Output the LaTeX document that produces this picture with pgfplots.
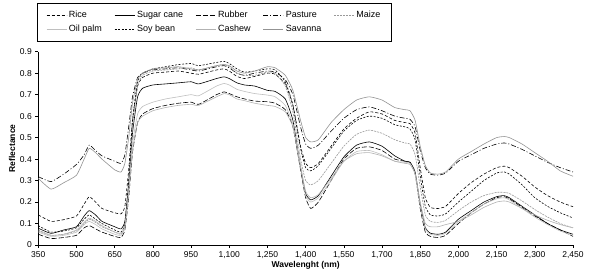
\documentclass[border=0pt]{standalone}
\usepackage{fontspec}
\setmainfont{Liberation Sans}
\usepackage{pgfplots}
\usepackage{pgfplotstable}
\pgfplotsset{compat=1.18}
\pgfplotstableread{
w     ri    su    rb    pa    mz    op    sb    ca    sv
350  .140 .078 .050 .318 .070 .060 .090 .065 .310
400  .110 .054 .030 .295 .045 .040 .060 .045 .260
450  .118 .070 .035 .330 .050 .045 .065 .050 .290
500  .135 .085 .045 .375 .065 .060 .080 .070 .325
530  .190 .135 .080 .420 .100 .095 .120 .105 .400
550  .225 .160 .090 .465 .120 .110 .140 .125 .450
575  .200 .140 .075 .440 .105 .095 .120 .110 .430
600  .170 .110 .060 .415 .085 .075 .100 .090 .400
650  .150 .085 .040 .390 .060 .050 .070 .060 .350
675  .145 .075 .035 .380 .050 .045 .060 .055 .340
690  .180 .110 .070 .420 .090 .080 .100 .090 .380
705  .350 .280 .220 .550 .280 .240 .300 .250 .500
720  .580 .520 .430 .690 .550 .470 .580 .440 .660
740  .740 .690 .570 .780 .740 .610 .760 .570 .770
760  .780 .730 .610 .800 .790 .645 .800 .600 .800
800  .800 .745 .635 .815 .810 .665 .820 .625 .820
850  .805 .750 .650 .820 .815 .680 .830 .640 .825
900  .810 .755 .660 .825 .820 .690 .840 .650 .830
950  .800 .760 .665 .815 .825 .700 .845 .655 .820
980  .795 .750 .655 .810 .815 .695 .835 .650 .815
1050 .815 .775 .700 .830 .835 .740 .850 .690 .835
1080 .820 .783 .713 .835 .840 .752 .855 .705 .840
1100 .810 .775 .705 .825 .830 .745 .845 .700 .835
1130 .785 .755 .690 .800 .800 .725 .820 .680 .810
1160 .775 .745 .680 .790 .790 .715 .805 .672 .800
1200 .785 .740 .670 .800 .790 .705 .810 .660 .810
1250 .800 .720 .667 .810 .805 .698 .820 .650 .830
1280 .795 .715 .660 .805 .800 .690 .815 .645 .825
1320 .750 .680 .630 .770 .740 .650 .760 .620 .790
1350 .650 .580 .550 .700 .620 .560 .650 .550 .720
1380 .460 .360 .350 .550 .400 .360 .450 .370 .580
1400 .380 .240 .220 .470 .300 .230 .360 .250 .500
1420 .360 .210 .170 .450 .280 .200 .345 .220 .480
1450 .380 .230 .200 .465 .300 .220 .370 .235 .490
1500 .460 .320 .300 .530 .380 .300 .450 .310 .570
1550 .540 .410 .400 .590 .460 .390 .530 .390 .630
1600 .590 .465 .450 .630 .515 .435 .580 .425 .675
1650 .620 .480 .457 .643 .535 .440 .600 .430 .690
1700 .610 .460 .440 .625 .520 .420 .590 .415 .675
1750 .580 .415 .400 .600 .490 .390 .560 .390 .640
1790 .570 .390 .390 .590 .475 .385 .550 .380 .630
1810 .565 .385 .385 .585 .470 .380 .540 .375 .625
1830 .520 .340 .330 .550 .420 .330 .490 .330 .580
1850 .360 .190 .170 .440 .270 .180 .320 .200 .460
1870 .220 .080 .060 .360 .140 .075 .180 .100 .370
1890 .175 .055 .040 .330 .110 .050 .140 .085 .335
1920 .170 .050 .035 .325 .105 .045 .135 .085 .330
1950 .180 .060 .045 .335 .115 .055 .145 .095 .340
2000 .240 .120 .100 .390 .160 .110 .200 .110 .400
2050 .290 .160 .150 .420 .200 .150 .250 .140 .435
2100 .330 .200 .190 .450 .230 .190 .300 .175 .470
2150 .360 .225 .220 .470 .245 .215 .335 .200 .500
2180 .367 .230 .225 .475 .245 .220 .340 .205 .505
2200 .360 .220 .215 .470 .240 .210 .330 .200 .500
2250 .320 .180 .175 .445 .205 .170 .280 .170 .470
2300 .270 .140 .135 .415 .165 .130 .220 .140 .430
2350 .230 .100 .100 .385 .130 .095 .180 .115 .390
2400 .200 .070 .070 .360 .100 .065 .150 .095 .345
2450 .178 .050 .040 .340 .080 .045 .126 .080 .320
}\spectra
\begin{document}
\begin{tikzpicture}
\begin{axis}[
  scale only axis, width=534.7pt, height=193.3pt,
  xmin=350, xmax=2450, ymin=0, ymax=0.9,
  xtick={350,500,650,800,950,1100,1250,1400,1550,1700,1850,2000,2150,2300,2450},
  ytick={0,0.1,0.2,0.3,0.4,0.5,0.6,0.7,0.8,0.9},
  axis lines*=left, tick align=outside, major tick length=3pt,
  axis line style={line width=0.5pt},
  tick style={black, line width=0.5pt},
  /pgf/number format/assume math mode=true,
  xticklabel style={font=\fontsize{8.5}{10}\selectfont, /pgf/number format/1000 sep={,}},
  yticklabel style={font=\fontsize{8.5}{10}\selectfont, /pgf/number format/fixed},
  xlabel={Wavelenght (nm)}, ylabel={Reflectance},
  label style={font=\fontsize{8.5}{10}\selectfont\bfseries},
  xlabel style={yshift=4pt},
  ylabel style={yshift=-2pt},
  legend columns=5,
  legend style={at={(0,1)}, anchor=north west, xshift=-1.3pt, yshift=48.7pt,
    draw=black, line width=0.6pt, inner xsep=9pt, inner ysep=5.5pt,
    font=\fontsize{9}{11}\selectfont, row sep=2.5pt,
    /tikz/every even column/.append style={column sep=10.5pt}},
  legend cell align=left,
  legend image code/.code={\draw[#1] (0pt,0pt) -- (20pt,0pt);},
  every axis plot/.append style={line width=0.6pt, line join=round, smooth, tension=0.3},
]
\addplot[black, dash pattern=on 3pt off 2pt] table[x=w,y=ri]{\spectra};
\addlegendentry{Rice}
\addplot[black] table[x=w,y=su]{\spectra};
\addlegendentry{Sugar cane}
\addplot[black, dash pattern=on 5pt off 2pt] table[x=w,y=rb]{\spectra};
\addlegendentry{Rubber}
\addplot[black, dash pattern=on 5pt off 2pt on 1pt off 2pt] table[x=w,y=pa]{\spectra};
\addlegendentry{Pasture}
\addplot[gray!80, dash pattern=on 2pt off 1pt] table[x=w,y=mz]{\spectra};
\addlegendentry{Maize}
\addplot[gray!50] table[x=w,y=op]{\spectra};
\addlegendentry{Oil palm}
\addplot[black, dash pattern=on 2pt off 1.5pt] table[x=w,y=sb]{\spectra};
\addlegendentry{Soy bean}
\addplot[gray!60] table[x=w,y=ca]{\spectra};
\addlegendentry{Cashew}
\addplot[gray!85] table[x=w,y=sv]{\spectra};
\addlegendentry{Savanna}
\end{axis}
\pgfresetboundingbox
\path ([shift={(-38.3pt,-33pt)}]current axis.south west) rectangle ([shift={(17pt,51.7pt)}]current axis.north east);
\end{tikzpicture}
\end{document}
